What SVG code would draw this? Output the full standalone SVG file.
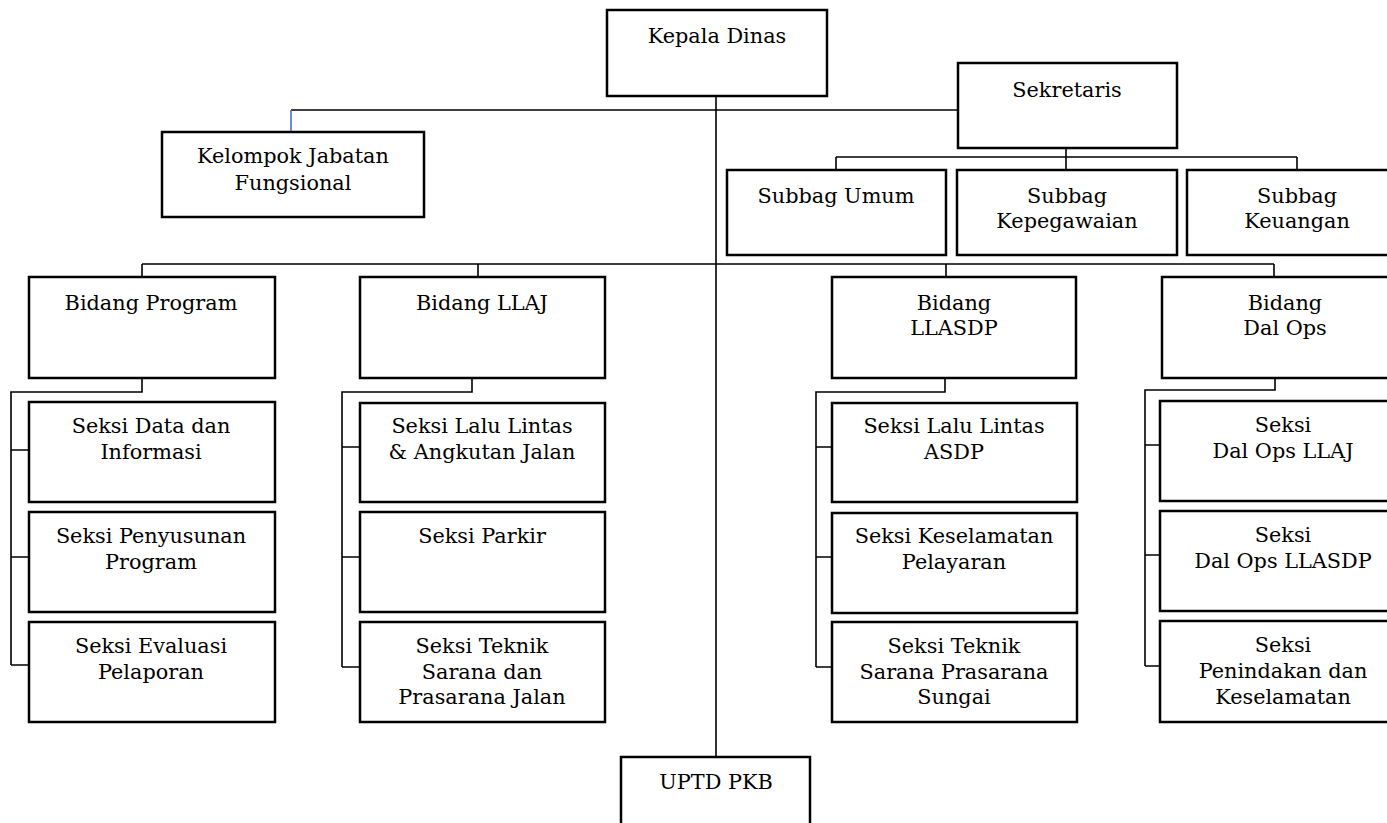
<svg xmlns="http://www.w3.org/2000/svg" width="1387" height="823" viewBox="0 0 1387 823">
<style>
.b{fill:#fff;stroke:#000;stroke-width:2.5}
.c{fill:none;stroke:#000;stroke-width:1.6}
.t{font-family:"DejaVu Serif","Liberation Serif",serif;font-size:20.8px;fill:#000;text-anchor:middle}
</style>
<rect width="1387" height="823" fill="#fff"/>
<g id="connectors">
<path class="c" d="M716 97V757"/>
<path class="c" d="M291 110H958"/>
<path fill="none" stroke="#4472c4" stroke-width="1.6" d="M291 110V132"/>
<path class="c" d="M1066 148V157M836 157H1297M836 157V170M1066 157V170M1297 157V170"/>
<path class="c" d="M142 264H1274M142 264V277M478 264V277M946 264V277M1274 264V277"/>
<path class="c" d="M142 378V392H11V665M11 450H29M11 557H29M11 665H29"/>
<path class="c" d="M472 378V392H342V667M342 447H359M342 557H359M342 667H359"/>
<path class="c" d="M945 378V392H816V667M816 447H832M816 557H832M816 667H832"/>
<path class="c" d="M1275 378V390H1145V666M1145 445H1160M1145 555H1160M1145 666H1160"/>
</g>
<g id="kepala-dinas"><rect class="b" x="607" y="10" width="220" height="86"/><text class="t" x="717" y="43">Kepala Dinas</text></g>
<g id="kelompok"><rect class="b" x="162" y="132" width="262" height="85"/><text class="t" x="293" y="163">Kelompok Jabatan</text><text class="t" x="293" y="190">Fungsional</text></g>
<g id="sekretaris"><rect class="b" x="958" y="63" width="219" height="85"/><text class="t" x="1067" y="97">Sekretaris</text></g>
<g id="subbag-umum"><rect class="b" x="727" y="170" width="219" height="85"/><text class="t" x="836" y="203">Subbag Umum</text></g>
<g id="subbag-kepegawaian"><rect class="b" x="957" y="170" width="220" height="85"/><text class="t" x="1067" y="203">Subbag</text><text class="t" x="1067" y="228">Kepegawaian</text></g>
<g id="subbag-keuangan"><rect class="b" x="1187" y="170" width="220" height="85"/><text class="t" x="1297" y="203">Subbag</text><text class="t" x="1297" y="228">Keuangan</text></g>
<g id="bidang-program"><rect class="b" x="29" y="277" width="246" height="101"/><text class="t" x="151" y="310">Bidang Program</text></g>
<g id="bidang-llaj"><rect class="b" x="360" y="277" width="245" height="101"/><text class="t" x="482" y="310">Bidang LLAJ</text></g>
<g id="bidang-llasdp"><rect class="b" x="832" y="277" width="244" height="101"/><text class="t" x="954" y="310">Bidang</text><text class="t" x="954" y="335">LLASDP</text></g>
<g id="bidang-dalops"><rect class="b" x="1162" y="277" width="246" height="101"/><text class="t" x="1285" y="310">Bidang</text><text class="t" x="1285" y="335">Dal Ops</text></g>
<g id="seksi-data"><rect class="b" x="29" y="402" width="246" height="100"/><text class="t" x="151" y="433">Seksi Data dan</text><text class="t" x="151" y="459">Informasi</text></g>
<g id="seksi-penyusunan"><rect class="b" x="29" y="512" width="246" height="100"/><text class="t" x="151" y="543">Seksi Penyusunan</text><text class="t" x="151" y="569">Program</text></g>
<g id="seksi-evaluasi"><rect class="b" x="29" y="622" width="246" height="100"/><text class="t" x="151" y="653">Seksi Evaluasi</text><text class="t" x="151" y="679">Pelaporan</text></g>
<g id="seksi-llaj"><rect class="b" x="360" y="403" width="245" height="99"/><text class="t" x="482" y="433">Seksi Lalu Lintas</text><text class="t" x="482" y="459">&amp; Angkutan Jalan</text></g>
<g id="seksi-parkir"><rect class="b" x="360" y="512" width="245" height="100"/><text class="t" x="482" y="543">Seksi Parkir</text></g>
<g id="seksi-teknik-jalan"><rect class="b" x="360" y="622" width="245" height="100"/><text class="t" x="482" y="653">Seksi Teknik</text><text class="t" x="482" y="679">Sarana dan</text><text class="t" x="482" y="704">Prasarana Jalan</text></g>
<g id="seksi-asdp"><rect class="b" x="832" y="403" width="245" height="99"/><text class="t" x="954" y="433">Seksi Lalu Lintas</text><text class="t" x="954" y="459">ASDP</text></g>
<g id="seksi-keselamatan"><rect class="b" x="832" y="513" width="245" height="100"/><text class="t" x="954" y="543">Seksi Keselamatan</text><text class="t" x="954" y="569">Pelayaran</text></g>
<g id="seksi-teknik-sungai"><rect class="b" x="832" y="622" width="245" height="100"/><text class="t" x="954" y="653">Seksi Teknik</text><text class="t" x="954" y="679">Sarana Prasarana</text><text class="t" x="954" y="704">Sungai</text></g>
<g id="seksi-dalops-llaj"><rect class="b" x="1160" y="401" width="246" height="100"/><text class="t" x="1283" y="432">Seksi</text><text class="t" x="1283" y="458">Dal Ops LLAJ</text></g>
<g id="seksi-dalops-llasdp"><rect class="b" x="1160" y="511" width="246" height="100"/><text class="t" x="1283" y="542">Seksi</text><text class="t" x="1283" y="568">Dal Ops LLASDP</text></g>
<g id="seksi-penindakan"><rect class="b" x="1160" y="621" width="246" height="101"/><text class="t" x="1283" y="652">Seksi</text><text class="t" x="1283" y="678">Penindakan dan</text><text class="t" x="1283" y="704">Keselamatan</text></g>
<g id="uptd-pkb"><rect class="b" x="621" y="757" width="189" height="80"/><text class="t" x="716" y="789">UPTD PKB</text></g>
</svg>
